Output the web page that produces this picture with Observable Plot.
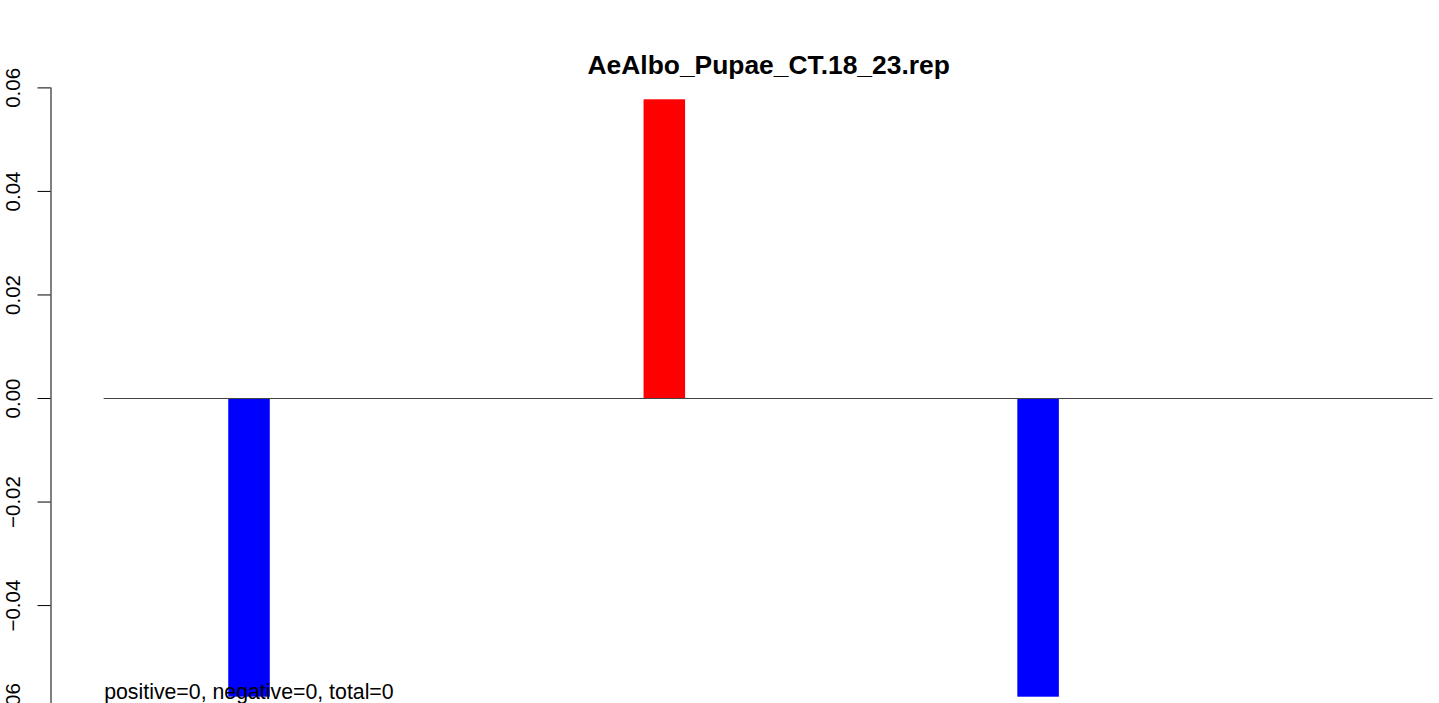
<!DOCTYPE html>
<html><head><meta charset="utf-8">
<script src="https://cdn.jsdelivr.net/npm/d3@7"></script>
<script src="https://cdn.jsdelivr.net/npm/@observablehq/plot@0.6"></script>
<style>html,body{margin:0;padding:0;background:#fff;} svg{display:block}</style>
</head><body><div id="chart"></div>
<script>
const title = "AeAlbo_Pupae_CT.18_23.rep";
const caption = "positive=0, negative=0, total=0";
const values = [0, 0, 0, -0.0577, 0, 0, 0, 0, 0, 0, 0, 0, 0, 0.0577, 0, 0, 0, 0, 0, 0, 0, 0, -0.0577, 0, 0, 0, 0, 0, 0, 0, 0, 0];
const yTicks = [-0.06, -0.04, -0.02, 0, 0.02, 0.04, 0.06];
const posColor = "#FF0000";
const negColor = "#0000FF";

const n = values.length;
const bars = values.map((v, i) => ({i, v}));
const xMin = -0.04 * n, xMax = n * 1.04;
const fmt = d3.format(".2f");

const chart = Plot.plot({
  width: 1439, height: 703,
  marginLeft: 50.5, marginTop: 0, marginRight: 0, marginBottom: 0,
  x: {type: "linear", domain: [xMin, xMax], range: [50.5, 1485.8], axis: null},
  y: {domain: [-0.06, 0.06], range: [708.6, 87.4], axis: null},
  color: {type: "identity"},
  style: {fontFamily: "'Liberation Sans', Arial, Helvetica, sans-serif", background: "#fff", color: "#000", overflow: "hidden"},
  marks: [
    Plot.rectY(bars, {x1: d => d.i, x2: d => d.i + 1, y1: 0, y2: d => d.v, fill: d => d.v >= 0 ? posColor : negColor}),
    Plot.ruleY([0], {x1: 0, x2: n, stroke: "#444", strokeWidth: 1}),
    Plot.ruleX([xMin], {y1: yTicks[0], y2: yTicks[yTicks.length - 1], stroke: "#000"}),
    Plot.ruleY(yTicks, {y: d => d, x1: xMin, x2: xMin, insetLeft: -13, insetRight: 0, stroke: "#000"}),
    Plot.text(yTicks, {y: d => d, text: d => fmt(d), frameAnchor: "left", dx: -37.5, rotate: -90, textAnchor: "middle", lineAnchor: "middle", fontSize: 20.5, fill: "#000"}),
    Plot.text([title], {x: n / 2, frameAnchor: "top", text: d => d, dy: 73, lineAnchor: "bottom", fontWeight: "bold", fontSize: 26.4, fill: "#000"}),
    Plot.text([caption], {x: 0, frameAnchor: "bottom", text: d => d, textAnchor: "start", lineAnchor: "bottom", dy: -5, fontSize: 21.3, fill: "#000"})
  ]
});
document.getElementById("chart").appendChild(chart);
</script>
</body></html>
